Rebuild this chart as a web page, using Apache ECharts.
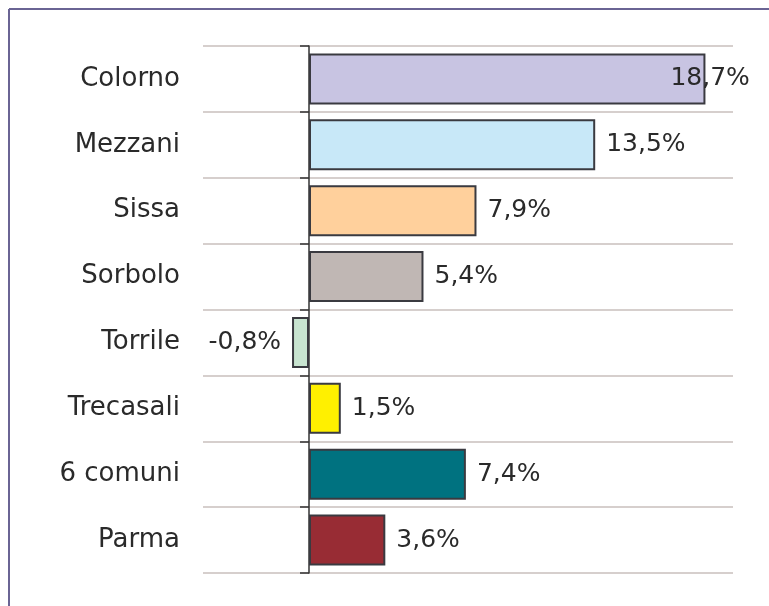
<!DOCTYPE html>
<html>
<head>
<meta charset="utf-8">
<script src="https://cdn.jsdelivr.net/npm/echarts@6/dist/echarts.min.js"></script>
<style>
  html, body { margin: 0; padding: 0; background: #fff; }
  #chart { width: 769px; height: 606px; }
</style>
</head>
<body>
<div id="chart"></div>
<script>
const categories = ["Colorno", "Mezzani", "Sissa", "Sorbolo", "Torrile", "Trecasali", "6 comuni", "Parma"];
const values = [18.7, 13.5, 7.9, 5.4, -0.8, 1.5, 7.4, 3.6];
const barColors = ["#c8c4e2", "#c8e8f8", "#ffd09c", "#c0b7b4", "#c8e4d0", "#fff000", "#007280", "#982c34"];

const fmt = v => v.toFixed(1).replace(".", ",") + "%";

const chart = echarts.init(document.getElementById("chart"));

const data = values.map((v, i) => {
  const item = {
    value: v,
    itemStyle: { color: barColors[i] },
    label: { position: v < 0 ? "left" : "right" }
  };
  if (i === 0) item.label.offset = [-46, 0];
  return item;
});

chart.setOption({
  animation: false,
  grid: { left: 203, right: 36, top: 46, bottom: 33, containLabel: false, outerBoundsMode: "none" },
  xAxis: {
    type: "value",
    min: -5,
    max: 20,
    show: false
  },
  yAxis: {
    type: "category",
    inverse: true,
    data: categories,
    axisLine: { onZero: true, lineStyle: { color: "#333", width: 1.5 } },
    axisTick: { show: true, length: 9, lineStyle: { color: "#333", width: 1.5 } },
    axisLabel: {
      margin: 23,
      fontFamily: "DejaVu Sans",
      fontSize: 26,
      color: "#2a2a2a"
    },
    splitLine: { show: true, lineStyle: { color: "#c9bfbd", width: 1.5 } }
  },
  series: [{
    type: "bar",
    data: data,
    barWidth: 51,
    itemStyle: { borderColor: "#3a3a40", borderWidth: 2 },
    label: {
      show: true,
      distance: 11,
      fontFamily: "DejaVu Sans",
      fontSize: 25,
      color: "#2a2a2a",
      formatter: p => fmt(p.value)
    }
  }],
  graphic: [
    { type: "line", shape: { x1: 9, y1: 9, x2: 769, y2: 9 }, style: { stroke: "#6a6494", lineWidth: 2 } },
    { type: "line", shape: { x1: 9, y1: 9, x2: 9, y2: 606 }, style: { stroke: "#6a6494", lineWidth: 2 } }
  ]
});
</script>
</body>
</html>
